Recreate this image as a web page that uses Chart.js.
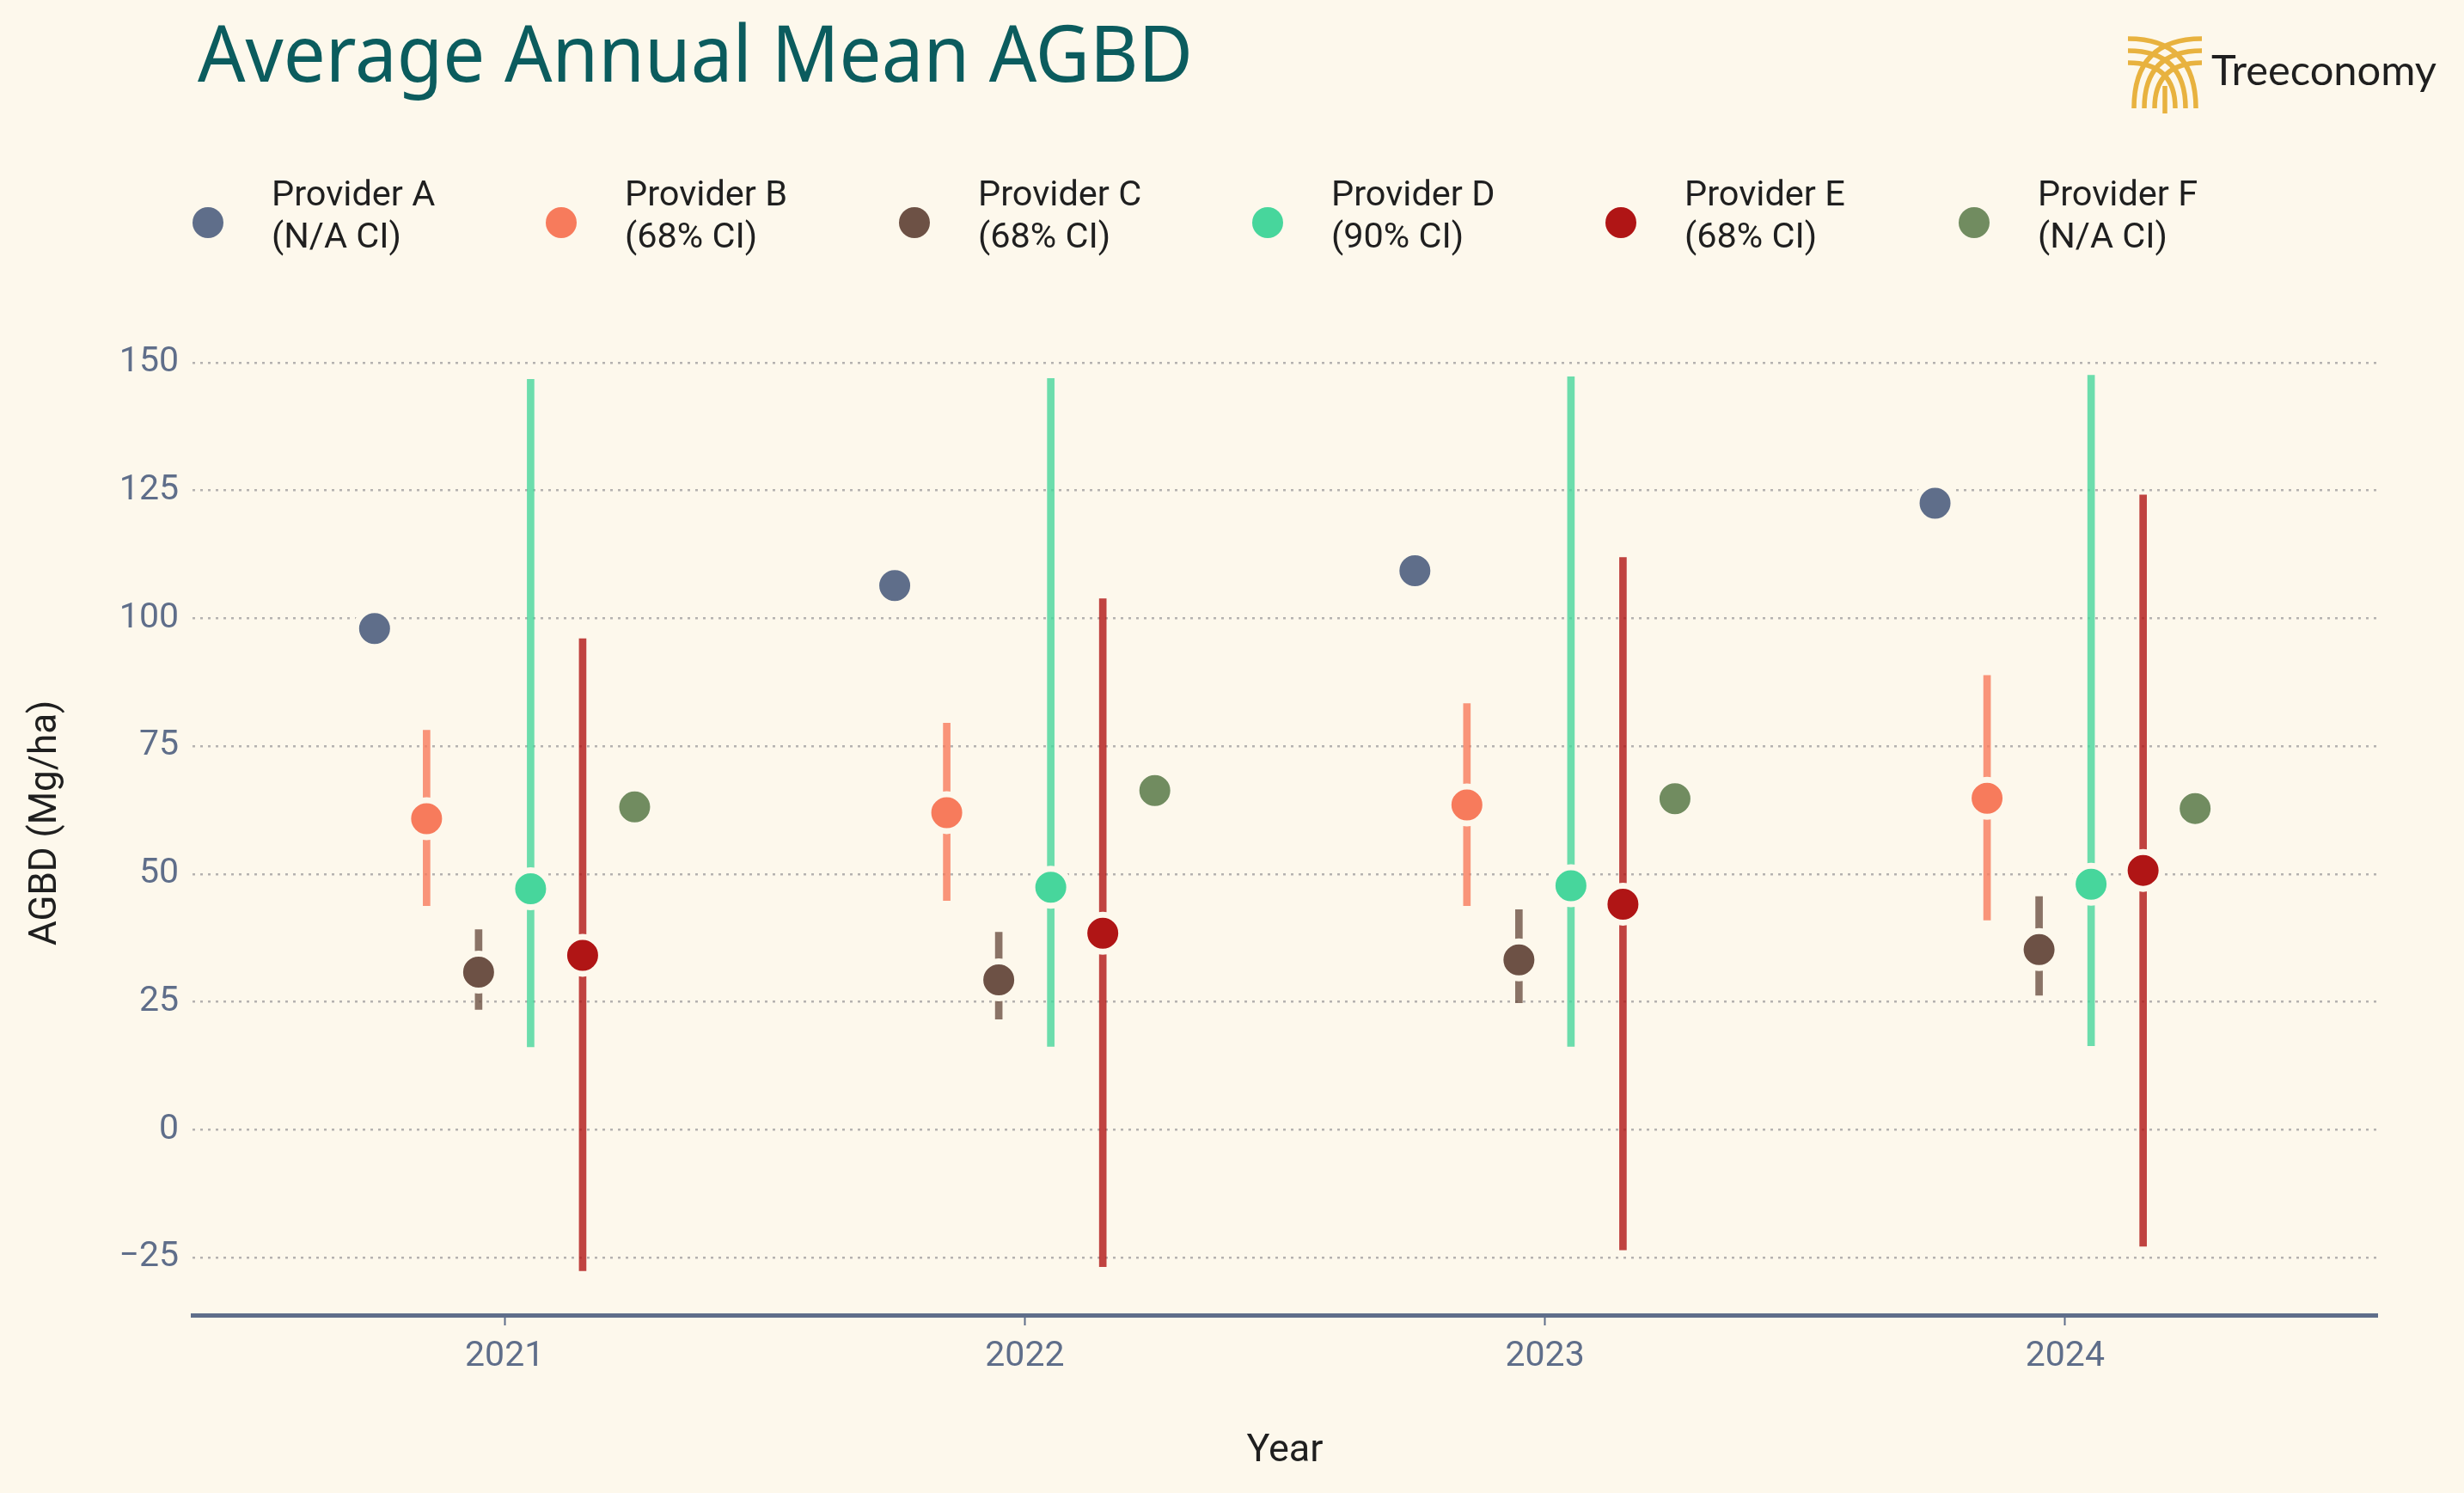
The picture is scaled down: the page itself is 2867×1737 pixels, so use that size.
<!DOCTYPE html>
<html>
<head>
<meta charset="utf-8">
<script src="https://cdn.jsdelivr.net/npm/chart.js@4.4.1/dist/chart.umd.min.js"></script>
<style>
html, body { margin: 0; padding: 0; background: #fdf8ec; }
#wrap { width: 2867px; height: 1737px; position: relative; }
</style>
</head>
<body>
<div id="wrap"><canvas id="c"></canvas></div>
<script>
// ---------- data ----------
const years = [2021, 2022, 2023, 2024];
const providers = ['Provider A', 'Provider B', 'Provider C', 'Provider D', 'Provider E', 'Provider F'];
const ciLabels = ['(N/A CI)', '(68% CI)', '(68% CI)', '(90% CI)', '(68% CI)', '(N/A CI)'];
const offsets = [-0.25, -0.15, -0.05, 0.05, 0.15, 0.25];

const meanA = [98.0, 106.4, 109.3, 122.5];

const meanB = [60.8, 62.0, 63.5, 64.8];
const lowB  = [43.8, 44.8, 43.8, 41.0];
const highB = [78.1, 79.5, 83.3, 88.8];

const meanC = [30.8, 29.3, 33.2, 35.2];
const lowC  = [23.5, 21.6, 24.8, 26.3];
const highC = [39.1, 38.6, 43.0, 45.6];

const meanD = [47.1, 47.4, 47.7, 48.0];
const lowD  = [16.2, 16.3, 16.3, 16.4];
const highD = [146.7, 146.9, 147.2, 147.5];

const meanE = [34.1, 38.4, 44.1, 50.7];
const lowE  = [-27.6, -26.8, -23.5, -22.8];
const highE = [96.0, 103.8, 111.9, 124.1];

const meanF = [63.1, 66.3, 64.7, 62.8];

const yTicks = [-25, 0, 25, 50, 75, 100, 125, 150];
const xTicks = [2021, 2022, 2023, 2024];

// ---------- styling ----------
const BG = '#fdf8ec';
const markerColors = ['#5f6e8a', '#f77b5c', '#6d5145', '#47d69c', '#b01515', '#718c60'];
const barColors = ['rgba(95,110,138,0.8)', 'rgba(247,123,92,0.8)', 'rgba(109,81,69,0.8)',
                   'rgba(71,214,156,0.8)', 'rgba(176,21,21,0.8)', 'rgba(113,140,96,0.8)'];
const SLATE = '#5f6e8a';

const means = [meanA, meanB, meanC, meanD, meanE, meanF];
const lows  = [null, lowB, lowC, lowD, lowE, null];
const highs = [null, highB, highC, highD, highE, null];

const datasets = [];
providers.forEach((name, i) => {
  if (lows[i]) {
    datasets.push({
      type: 'bar',
      label: name + ' CI',
      data: years.map((yr, j) => ({ x: yr + offsets[i], y: [lows[i][j], highs[i][j]] })),
      backgroundColor: barColors[i],
      borderWidth: 0,
      grouped: false,
      maxBarThickness: 8,
      barPercentage: 1,
      categoryPercentage: 1,
      order: 2
    });
  }
  datasets.push({
    type: 'scatter',
    label: name,
    data: years.map((yr, j) => ({ x: yr + offsets[i], y: means[i][j] })),
    pointRadius: 21.5,
    pointHoverRadius: 21.5,
    pointBorderWidth: 7,
    pointBorderColor: BG,
    pointBackgroundColor: markerColors[i],
    order: 1
  });
});

// ---------- plugins ----------
const bgPlugin = {
  id: 'bg',
  beforeDraw(chart) {
    const ctx = chart.ctx;
    ctx.save();
    ctx.fillStyle = BG;
    ctx.fillRect(0, 0, chart.width, chart.height);
    ctx.restore();
  }
};

function fitText(ctx, text, x, y, targetW) {
  const w = ctx.measureText(text).width;
  const s = targetW / w;
  ctx.save();
  ctx.translate(x, y);
  ctx.scale(s, 1);
  ctx.fillText(text, 0, 0);
  ctx.restore();
}

const decorPlugin = {
  id: 'decor',
  afterDraw(chart) {
    const ctx = chart.ctx;
    ctx.save();
    // Title
    ctx.fillStyle = '#0b5c5e';
    ctx.font = '400 92px "Noto Sans"';
    ctx.textBaseline = 'alphabetic';
    ctx.textAlign = 'left';
    fitText(ctx, 'Average Annual Mean AGBD', 230, 95, 1158);

    // Legend
    providers.forEach((name, i) => {
      const cx = 242 + 411 * i, cy = 259;
      ctx.beginPath();
      ctx.arc(cx, cy, 18, 0, Math.PI * 2);
      ctx.fillStyle = markerColors[i];
      ctx.fill();
      ctx.fillStyle = '#1f1f1f';
      ctx.font = '400 41.5px Roboto';
      ctx.fillText(name, cx + 74, 239);
      ctx.fillText(ciLabels[i], cx + 74, 288);
    });

    // Logo icon
    ctx.strokeStyle = '#e8b23f';
    ctx.lineWidth = 5.5;
    ctx.lineCap = 'butt';
    const L = 2476, R = 2562, B = 132, mid = 2519;
    const tops = [45, 59, 73];
    const ends = [36, 24, 12];
    for (let k = 0; k < 3; k++) {
      ctx.beginPath();
      ctx.moveTo(L, tops[k]);
      ctx.quadraticCurveTo(mid + ends[k], tops[k], mid + ends[k], B - 6);
      ctx.stroke();
      ctx.beginPath();
      ctx.moveTo(R, tops[k]);
      ctx.quadraticCurveTo(mid - ends[k], tops[k], mid - ends[k], B - 6);
      ctx.stroke();
    }
    ctx.beginPath();
    ctx.moveTo(mid, 100);
    ctx.lineTo(mid, B);
    ctx.stroke();

    // Logo text
    ctx.fillStyle = '#1f1f1f';
    ctx.font = '400 48px Lato';
    fitText(ctx, 'Treeconomy', 2573, 99, 262);
    ctx.restore();
  }
};

// ---------- chart ----------
new Chart(document.getElementById('c'), {
  type: 'scatter',
  data: { datasets },
  plugins: [bgPlugin, decorPlugin],
  options: {
    responsive: true,
    maintainAspectRatio: false,
    devicePixelRatio: 1,
    animation: false,
    events: [],
    layout: { padding: { top: 384.6, right: 101, left: 0, bottom: 0 } },
    plugins: { legend: { display: false }, tooltip: { enabled: false }, title: { display: false } },
    scales: {
      x: {
        type: 'linear',
        position: 'bottom',
        min: 2020.4,
        max: 2024.6,
        offset: false,
        afterBuildTicks: (s) => { s.ticks = xTicks.map(v => ({ value: v })); },
        afterFit: (s) => { s.height = 207; },
        grid: { display: true, drawOnChartArea: false, drawTicks: true, tickLength: 12,
                tickWidth: 2, tickColor: SLATE, offset: false },
        border: { display: true, color: SLATE, width: 5 },
        ticks: { color: SLATE, font: { family: 'Roboto', size: 41 }, padding: 12,
                 maxRotation: 0, autoSkip: false, callback: (v) => String(v) },
        title: { display: true, text: 'Year', color: '#1f1f1f',
                 font: { family: 'Roboto', size: 45 }, padding: { top: 0, bottom: 21 } }
      },
      y: {
        type: 'linear',
        position: 'left',
        min: -36.25,
        max: 156.25,
        beginAtZero: false,
        afterBuildTicks: (s) => { s.ticks = yTicks.map(v => ({ value: v })); },
        afterFit: (s) => { s.width = 224; },
        grid: { display: true, drawTicks: false, color: '#b5b2b0', lineWidth: 2.5 },
        border: { display: false, dash: [3, 6] },
        ticks: { color: SLATE, font: { family: 'Roboto', size: 41 }, padding: 16,
                 autoSkip: false, callback: (v) => String(v).replace('-', '\u2212') },
        title: { display: true, text: 'AGBD (Mg/ha)', color: '#1f1f1f',
                 font: { family: 'Roboto', size: 44 }, padding: { top: 28, bottom: 0 } }
      }
    }
  }
});
</script>
</body>
</html>
